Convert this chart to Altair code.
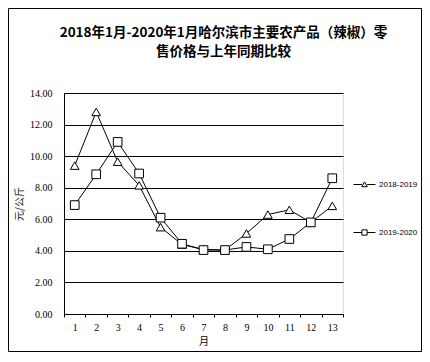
import altair as alt
import pandas as pd

months = list(range(1, 14))
series_names = ["2018-2019", "2019-2020"]
s2018_2019 = [9.4, 12.8, 9.65, 8.15, 5.5, 4.4, 4.1, 4.05, 5.1, 6.3, 6.6, 5.8, 6.85]
s2019_2020 = [6.9, 8.85, 10.9, 8.9, 6.1, 4.45, 4.05, 4.05, 4.25, 4.1, 4.75, 5.8, 8.6]
y_ticks = [0, 2, 4, 6, 8, 10, 12, 14]
title_lines = ["2018年1月-2020年1月哈尔滨市主要农产品（辣椒）零", "售价格与上年同期比较"]
y_title = "元/公斤"
x_title = "月"

rows = []
for name, vals in zip(series_names, [s2018_2019, s2019_2020]):
    for m, v in zip(months, vals):
        rows.append({"month": m, "price": v, "series": name})
df = pd.DataFrame(rows)

W, H = 279, 221
PAD_L, PAD_T, PAD_R, PAD_B = 56, 85, 79, 38

x_enc = alt.X(
    "month:O",
    scale=alt.Scale(paddingInner=0, paddingOuter=0),
    axis=alt.Axis(
        title=x_title, labelAngle=0, tickBand="extent", tickSize=3,
        tickColor="black", domainColor="black", labelPadding=5,
        labelFont="Liberation Serif", labelFontSize=10, labelColor="black",
        titleFont="Noto Sans CJK SC", titleFontSize=10, titleFontWeight="normal",
        titlePadding=4, titleColor="black", grid=False,
    ),
)
y_enc = alt.Y(
    "price:Q",
    scale=alt.Scale(domain=[0, 14], nice=False),
    axis=alt.Axis(
        title=y_title, values=y_ticks, format=".2f", tickSize=0,
        labelPadding=12, labelFont="Liberation Serif", labelFontSize=10,
        labelColor="black", domainColor="black", gridColor="black",
        gridOpacity=1, grid=True, titleFont="Noto Sans CJK SC",
        titleFontSize=10, titleFontWeight="normal", titleColor="#222222",
        titlePadding=5,
    ),
)

base = alt.Chart(df)

lines = base.mark_line(color="black", strokeWidth=1).encode(
    x=x_enc, y=y_enc, detail="series:N"
)

points = base.mark_point(filled=True, fill="white", stroke="black", strokeWidth=1, size=75, opacity=1).encode(
    x=x_enc, y=y_enc,
    shape=alt.Shape("series:N", scale=alt.Scale(domain=series_names, range=["triangle-up", "square"]), legend=None),
)

legend_paths = [
    "M-1,0H-0.24M0.24,0H1M0,-0.24L0.25,0.2H-0.25Z",
    "M-1,0H-0.24M0.24,0H1M-0.24,-0.24H0.24V0.24H-0.24Z",
]
legend_layer = base.mark_point(opacity=0, size=484).encode(
    x=x_enc, y=y_enc,
    shape=alt.Shape(
        "series:N",
        scale=alt.Scale(domain=series_names, range=legend_paths),
        legend=alt.Legend(
            title=None, orient="none", legendX=289, legendY=80, direction="vertical",
            symbolSize=484, symbolStrokeColor="black", symbolFillColor="white",
            symbolStrokeWidth=1, symbolOpacity=1, rowPadding=32, labelOffset=3,
            labelFont="Liberation Sans", labelFontSize=8, labelColor="black", padding=0,
        ),
    ),
)

border = alt.Chart(pd.DataFrame({"a": [0]})).mark_rect(
    fill=None, stroke="black", strokeWidth=1
).encode(
    x=alt.value(-PAD_L + 0.5), x2=alt.value(W + PAD_R - 0.5),
    y=alt.value(-PAD_T + 0.5), y2=alt.value(H + PAD_B - 0.5),
)

chart = alt.layer(border, lines, legend_layer, points).resolve_scale(
    shape="independent"
).properties(
    width=W, height=H,
    autosize=alt.AutoSizeParams(type="none"),
    padding={"left": PAD_L, "top": PAD_T, "right": PAD_R, "bottom": PAD_B},
    title=alt.TitleParams(
        text=title_lines, font="Noto Sans CJK SC", fontSize=13.5, fontWeight="bold",
        lineHeight=19, offset=-50, anchor="middle", frame="group", dx=20, color="black",
    ),
).configure_view(stroke=None).configure(background="white")

chart.save("out.html", embed_options={"renderer": "svg", "actions": False})
